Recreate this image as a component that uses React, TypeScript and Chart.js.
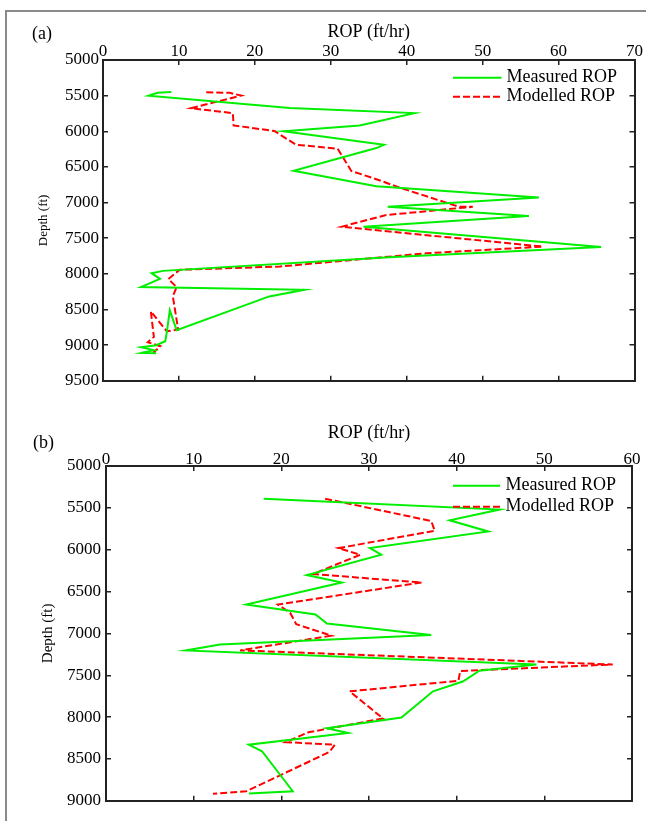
import React, { useEffect, useRef } from 'react';
import { Chart, registerables } from 'chart.js';

Chart.register(...registerables);

const FONT = "'Liberation Serif', 'Times New Roman', Times, serif";

// ---------- Panel (a) ----------
const measuredA_rop = [9.0, 7.2, 6.0, 24.6, 41.0, 33.8, 23.8, 37.0, 36.0, 25.1, 36.0, 57.4, 37.5, 56.1, 34.3, 65.6, 37.7, 7.9, 6.4, 7.5, 5.0, 26.5, 21.9, 9.7, 8.8, 8.4, 8.2, 7.0, 5.0, 6.7, 5.1, 7.0];
const measuredA_depth = [5450, 5460, 5500, 5675, 5745, 5918, 6000, 6188, 6235, 6555, 6770, 6928, 7060, 7190, 7340, 7622, 7768, 7958, 7990, 8070, 8185, 8223, 8316, 8790, 8512, 8820, 8945, 9000, 9030, 9070, 9108, 9113];
const modelledA_rop = [13.6, 16.7, 18.2, 11.6, 17.1, 17.2, 22.6, 25.4, 30.9, 32.7, 36.0, 39.0, 46.9, 48.7, 37.3, 31.4, 57.9, 42.6, 23.3, 10.1, 8.6, 9.7, 9.2, 9.9, 8.4, 6.3, 6.7, 5.9, 7.55, 6.6];
const modelledA_depth = [5452, 5461, 5499, 5676, 5746, 5918, 5997, 6188, 6244, 6556, 6672, 6788, 7059, 7059, 7175, 7339, 7618, 7711, 7897, 7943, 8073, 8185, 8316, 8782, 8805, 8526, 8884, 8959, 9015, 9108];

// ---------- Panel (b) ----------
const measuredB_rop = [18.0, 44.9, 39.2, 43.6, 30.1, 31.4, 22.9, 26.9, 16.0, 23.9, 25.2, 37.1, 13.0, 9.1, 49.1, 42.6, 40.7, 37.3, 33.7, 25.2, 27.6, 16.3, 17.8, 21.3, 16.3];
const measuredB_depth = [5391, 5520, 5649, 5782, 5981, 6060, 6303, 6392, 6655, 6773, 6882, 7020, 7132, 7203, 7371, 7446, 7575, 7692, 8005, 8134, 8189, 8330, 8408, 8886, 8913];
const modelledB_rop = [25.0, 37.1, 37.5, 26.5, 29.0, 23.6, 36.0, 19.6, 21.0, 21.7, 25.7, 15.3, 57.8, 40.4, 40.2, 27.8, 31.6, 23.1, 20.5, 26.1, 25.5, 16.0, 12.2];
const modelledB_depth = [5391, 5657, 5775, 5981, 6060, 6291, 6392, 6655, 6753, 6890, 7027, 7203, 7371, 7449, 7566, 7692, 8017, 8181, 8299, 8330, 8416, 8886, 8917];

const xRangeA = [0, 70];
const yRangeA = [5000, 9500];
const xRangeB = [0, 60];
const yRangeB = [5000, 9000];
const xStep = 10;
const yStep = 500;

const seriesLabels = ['Measured ROP', 'Modelled ROP'];
const xTitle = 'ROP (ft/hr)';
const yTitle = 'Depth (ft)';

function toPoints(xs: number[], ys: number[]) {
  return xs.map((v, i) => ({ x: v, y: ys[i] }));
}

const plainNumber = (v: any) => String(v);

const insideLegend = {
  id: 'insideLegend',
  afterDraw(chart: any, _args: any, opts: any) {
    const ctx = chart.ctx;
    const ca = chart.chartArea;
    ctx.save();
    chart.data.datasets.forEach((ds: any, i: number) => {
      const y = ca.top + opts.top + i * opts.gap;
      const x0 = ca.right - opts.fromRight;
      ctx.beginPath();
      ctx.setLineDash(ds.borderDash || []);
      ctx.strokeStyle = ds.borderColor;
      ctx.lineWidth = ds.borderWidth;
      ctx.moveTo(x0, y);
      ctx.lineTo(x0 + opts.lineLen, y);
      ctx.stroke();
      ctx.setLineDash([]);
      ctx.fillStyle = '#000';
      ctx.font = `${opts.size}px ${FONT}`;
      ctx.textBaseline = 'middle';
      ctx.textAlign = 'left';
      ctx.fillText(ds.label, x0 + opts.lineLen + opts.textGap, y);
    });
    ctx.restore();
  },
};

function buildConfig(p: any) {
  const tickGrid = { drawOnChartArea: false, drawTicks: true, tickLength: -5, color: '#222', lineWidth: 1.5 };
  const border = { display: true, color: '#222', width: 2 };
  return {
    type: 'scatter',
    data: {
      datasets: [
        {
          label: seriesLabels[0],
          data: toPoints(p.measX, p.measY),
          showLine: true,
          borderColor: '#00ee00',
          backgroundColor: '#00ee00',
          borderWidth: 2,
          pointRadius: 0,
          tension: 0,
        },
        {
          label: seriesLabels[1],
          data: toPoints(p.modX, p.modY),
          showLine: true,
          borderColor: '#ff0000',
          backgroundColor: '#ff0000',
          borderWidth: 2,
          borderDash: [7, 3],
          pointRadius: 0,
          tension: 0,
        },
      ],
    },
    options: {
      responsive: false,
      animation: false,
      devicePixelRatio: 1,
      layout: { padding: 0, autoPadding: false },
      plugins: {
        legend: { display: false },
        tooltip: { enabled: false },
        insideLegend: p.legend,
      },
      scales: {
        x: {
          type: 'linear',
          position: 'top',
          min: p.xRange[0],
          max: p.xRange[1],
          ticks: { stepSize: xStep, padding: p.xTickPad, color: '#000', font: { family: FONT, size: 17 }, maxRotation: 0, autoSkip: false, callback: plainNumber },
          grid: tickGrid,
          border,
          title: { display: true, text: xTitle, color: '#000', font: { family: FONT, size: 18 }, padding: { top: p.xTitlePad, bottom: 0 } },
          afterFit: (s: any) => { s.height = p.topH; },
        },
        y: {
          type: 'linear',
          position: 'left',
          reverse: true,
          min: p.yRange[0],
          max: p.yRange[1],
          ticks: { stepSize: yStep, padding: p.yTickPad, color: '#000', font: { family: FONT, size: 17 }, autoSkip: false, callback: plainNumber },
          grid: tickGrid,
          border,
          title: { display: true, text: yTitle, color: '#000', font: { family: FONT, size: p.yTitleSize }, padding: { top: p.yTitlePad, bottom: 0 } },
          afterFit: (s: any) => { s.width = p.leftW; },
        },
        x2: {
          type: 'linear',
          position: 'bottom',
          min: p.xRange[0],
          max: p.xRange[1],
          ticks: { stepSize: xStep, display: false },
          grid: tickGrid,
          border,
          afterFit: (s: any) => { s.height = p.bottomH; },
        },
        y2: {
          type: 'linear',
          position: 'right',
          reverse: true,
          min: p.yRange[0],
          max: p.yRange[1],
          ticks: { stepSize: yStep, display: false },
          grid: tickGrid,
          border,
          afterFit: (s: any) => { s.width = p.rightW; },
        },
      },
    },
    plugins: [insideLegend],
  };
}

export default function App() {
  const refA = useRef<HTMLCanvasElement>(null);
  const refB = useRef<HTMLCanvasElement>(null);

  useEffect(() => {
    const chartA = new Chart(refA.current as any, buildConfig({
      measX: measuredA_rop, measY: measuredA_depth, modX: modelledA_rop, modY: modelledA_depth,
      xRange: xRangeA, yRange: yRangeA,
      topH: 60, leftW: 103, rightW: 11, bottomH: 19,
      xTickPad: 3, yTickPad: 9, xTitlePad: 21, yTitleSize: 13, yTitlePad: 36,
      legend: { top: 17.7, gap: 19, fromRight: 181.5, lineLen: 48.5, textGap: 5, size: 18 },
    }) as any);
    const chartB = new Chart(refB.current as any, buildConfig({
      measX: measuredB_rop, measY: measuredB_depth, modX: modelledB_rop, modY: modelledB_depth,
      xRange: xRangeB, yRange: yRangeB,
      topH: 66, leftW: 106, rightW: 14, bottomH: 14,
      xTickPad: 1, yTickPad: 10, xTitlePad: 22.5, yTitleSize: 15, yTitlePad: 39,
      legend: { top: 19.7, gap: 21, fromRight: 179, lineLen: 47, textGap: 5.5, size: 18 },
    }) as any);
    return () => {
      chartA.destroy();
      chartB.destroy();
    };
  }, []);

  return (
    <div style={{ position: 'absolute', left: 0, top: 0, width: 646, height: 821, overflow: 'hidden', background: '#fff' }}>
      <div style={{ position: 'absolute', left: 5, top: 10, width: 660, height: 830, borderTop: '2px solid #8a8a8a', borderLeft: '2px solid #8a8a8a', boxSizing: 'border-box' }} />
      <canvas ref={refA} width={646} height={400} style={{ position: 'absolute', left: 0, top: 0 }} />
      <canvas ref={refB} width={646} height={421} style={{ position: 'absolute', left: 0, top: 400 }} />
      <div style={{ position: 'absolute', left: 32, top: 23, font: `18px ${FONT}`, lineHeight: '20px', color: '#000' }}>(a)</div>
      <div style={{ position: 'absolute', left: 33, top: 432, font: `18px ${FONT}`, lineHeight: '20px', color: '#000' }}>(b)</div>
    </div>
  );
}
